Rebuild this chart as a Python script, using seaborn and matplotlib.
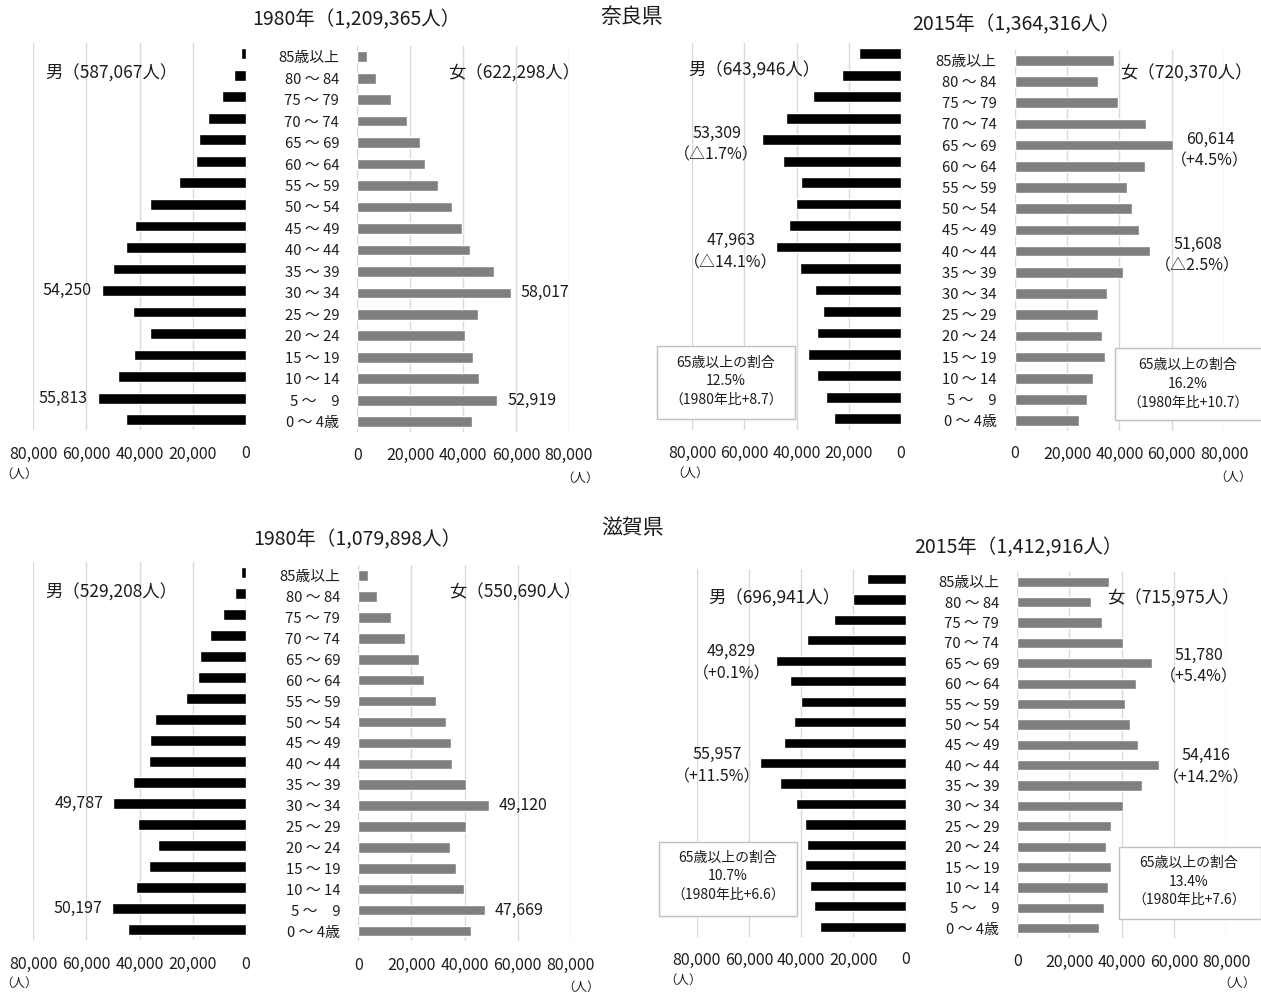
import matplotlib
matplotlib.use("Agg")
import matplotlib.pyplot as plt
from matplotlib.patches import Rectangle
import seaborn as sns

# Age groups, top of the pyramid first
ages = ["85歳以上", "80 ～ 84", "75 ～ 79", "70 ～ 74", "65 ～ 69", "60 ～ 64",
        "55 ～ 59", "50 ～ 54", "45 ～ 49", "40 ～ 44", "35 ～ 39", "30 ～ 34",
        "25 ～ 29", "20 ～ 24", "15 ～ 19", "10 ～ 14", "5 ～　9", "0 ～ 4歳"]

# Population by age group (persons)
nara_1980_male = [1900, 4400, 9000, 14100, 17600, 18800, 25000, 35900, 41700,
                  45200, 50100, 54250, 42500, 36200, 42200, 48200, 55813, 45200]
nara_1980_female = [3800, 7100, 12700, 18700, 23700, 25500, 30400, 35800, 39700,
                     42800, 51600, 58017, 45700, 40600, 43800, 46200, 52919, 43300]
nara_2015_male = [16200, 22600, 33600, 44000, 53309, 45000, 38300, 40200, 43000,
                  47963, 38500, 32900, 30000, 32000, 35600, 32000, 28800, 25800]
nara_2015_female = [38000, 32000, 39300, 50200, 60614, 49900, 42800, 44700, 47700,
                    51608, 41400, 35300, 32000, 33500, 34400, 29900, 27800, 24700]
shiga_1980_male = [1900, 4300, 8800, 13600, 17100, 18000, 22400, 34100, 36100,
                   36400, 42300, 49787, 40500, 32900, 36500, 41500, 50197, 44500]
shiga_1980_female = [3800, 6900, 12400, 17600, 22900, 24700, 29100, 32900, 34900,
                     35200, 40600, 49120, 40700, 34500, 36700, 39800, 47669, 42300]
shiga_2015_male = [14900, 20000, 27400, 37600, 49829, 44300, 39900, 42700, 46700,
                   55957, 48100, 42000, 38700, 37600, 38400, 36700, 35100, 32800]
shiga_2015_female = [35000, 28400, 32500, 40500, 51780, 45400, 41100, 43200, 46400,
                     54416, 47800, 40500, 35800, 34000, 35900, 34700, 33200, 31400]

# Totals
totals = {"nara_1980": 1209365, "nara_2015": 1364316,
          "shiga_1980": 1079898, "shiga_2015": 1412916}
male_totals = {"nara_1980": 587067, "nara_2015": 643946,
               "shiga_1980": 529208, "shiga_2015": 696941}
female_totals = {"nara_1980": 622298, "nara_2015": 720370,
                 "shiga_1980": 550690, "shiga_2015": 715975}

# Change rates shown next to highlighted 2015 bars (age index -> text)
nara_2015_male_changes = {4: "△1.7%", 9: "△14.1%"}
nara_2015_female_changes = {4: "+4.5%", 9: "△2.5%"}
shiga_2015_male_changes = {4: "+0.1%", 9: "+11.5%"}
shiga_2015_female_changes = {4: "+5.4%", 9: "+14.2%"}

# Share of population aged 65+ (rate, change since 1980)
nara_male_elderly = ("12.5%", "+8.7")
nara_female_elderly = ("16.2%", "+10.7")
shiga_male_elderly = ("10.7%", "+6.6")
shiga_female_elderly = ("13.4%", "+7.6")

ticks = [0, 20000, 40000, 60000, 80000]

sns.set_style("white")
plt.rcParams["font.family"] = ["Noto Sans CJK JP", "DejaVu Sans"]

W, H = 1261, 992
fig = plt.figure(figsize=(W / 100, H / 100), dpi=100)

TEXT = "#1c1c1c"
MALE = "#000000"
FEMALE = "#7f7f7f"
GRID = "#d9d9d9"


def pt(px):
    return px * 0.72


def half(values, x0, x80, c0, c17, color, tick_y, show_ages):
    step = (c17 - c0) / 17
    top, bottom = c0 - step / 2, c17 + step / 2
    left, right = min(x0, x80), max(x0, x80)
    ax = fig.add_axes([left / W, 1 - bottom / H, (right - left) / W, (bottom - top) / H])
    sns.barplot(x=values, y=ages, orient="h", color=color, saturation=1,
                width=0.5, ax=ax)
    if x80 < x0:
        ax.set_xlim(80000, 0)
    else:
        ax.set_xlim(0, 80000)
    ax.set_ylim(17.5, -0.5)
    ax.set_xlabel("")
    ax.set_ylabel("")
    ax.set_xticks(ticks)
    ax.set_xticklabels([f"{t:,}" for t in ticks])
    ax.tick_params(axis="x", length=0, pad=pt(tick_y - bottom), labelsize=11.5,
                   labelcolor=TEXT)
    plt.setp(ax.get_xticklabels(), va="center")
    ax.set_yticks(range(len(ages)))
    if show_ages:
        ax.set_yticklabels(ages)
        ax.tick_params(axis="y", length=0, pad=13, labelsize=10.7, labelcolor=TEXT)
    else:
        ax.tick_params(axis="y", left=False, labelleft=False)
    ax.grid(axis="x", color=GRID, linewidth=1)
    ax.grid(axis="y", visible=False)
    ax.set_axisbelow(True)
    for s in ax.spines.values():
        s.set_visible(False)
    return ax


def ftext(x, y, s, ha="center", size=11, z=6, **kw):
    fig.text(x / W, 1 - y / H, s, ha=ha, va="center", fontsize=size,
             color=TEXT, zorder=z, **kw)


def value_label(ax, values, i, side, dx=10, dy=0):
    sgn = -1 if side == "left" else 1
    ax.annotate(f"{values[i]:,}", xy=(values[i], i), xytext=(sgn * pt(dx), -pt(dy)),
                textcoords="offset points", ha="right" if side == "left" else "left",
                va="center", fontsize=11.5, color=TEXT)


def change_label(ax, values, i, change, dx, dy):
    ax.annotate(f"{values[i]:,}\n（{change}）", xy=(values[i], i),
                xytext=(pt(dx), -pt(dy)), textcoords="offset points",
                ha="center", va="center", fontsize=11.5, color=TEXT,
                linespacing=1.4)


def elderly_box(x0, x1, y0, y1, cx, lines_y, info):
    fig.add_artist(Rectangle((x0 / W, 1 - y1 / H), (x1 - x0) / W, (y1 - y0) / H,
                             transform=fig.transFigure, facecolor="white",
                             edgecolor="#bfbfbf", linewidth=1, zorder=5))
    rate, diff = info
    for s, y in zip(["65歳以上の割合", rate, f"（1980年比{diff}）"], lines_y):
        ftext(cx, y, s, size=10)


def unit(x, y):
    ftext(x, y, "（人）", size=9)


# ---------------- 奈良県 ----------------
ftext(632, 17, "奈良県", size=15)

ax = half(nara_1980_male, 245.7, 33.3, 53.7, 419.7, MALE, 454, False)
value_label(ax, nara_1980_male, 11, "left")
value_label(ax, nara_1980_male, 16, "left")
ax = half(nara_1980_female, 357.3, 568.7, 56.7, 421.7, FEMALE, 455, True)
value_label(ax, nara_1980_female, 11, "right")
value_label(ax, nara_1980_female, 16, "right")
ftext(356, 20, f"1980年（{totals['nara_1980']:,}人）", size=14)
ftext(45, 74, f"男（{male_totals['nara_1980']:,}人）", ha="left", size=12.5)
ftext(448, 74, f"女（{female_totals['nara_1980']:,}人）", ha="left", size=12.5)
unit(19, 474)
unit(580, 478)

ax = half(nara_2015_male, 901, 692, 53.8, 418.8, MALE, 453, False)
for i, c in nara_2015_male_changes.items():
    change_label(ax, nara_2015_male, i, c, -45, 4.5)
ax = half(nara_2015_female, 1014.7, 1224, 60.3, 420.8, FEMALE, 454, True)
change_label(ax, nara_2015_female, 4, nara_2015_female_changes[4], 37, 5)
change_label(ax, nara_2015_female, 9, nara_2015_female_changes[9], 48, 4)
ftext(1016, 25, f"2015年（{totals['nara_2015']:,}人）", size=14)
ftext(688, 71, f"男（{male_totals['nara_2015']:,}人）", ha="left", size=12.5)
ftext(1120, 74, f"女（{female_totals['nara_2015']:,}人）", ha="left", size=12.5)
unit(690, 473)
unit(1233, 477)
elderly_box(657, 795, 345.7, 419, 726, [362.7, 381, 399.5], nara_male_elderly)
elderly_box(1115, 1262, 347.7, 420, 1188, [365, 384, 402.7], nara_female_elderly)

# ---------------- 滋賀県 ----------------
ftext(632, 528, "滋賀県", size=15)

ax = half(shiga_1980_male, 246, 33, 572.5, 929.3, MALE, 964, False)
value_label(ax, shiga_1980_male, 11, "left")
value_label(ax, shiga_1980_male, 16, "left")
ax = half(shiga_1980_female, 358.3, 570.7, 575.7, 931, FEMALE, 965, True)
value_label(ax, shiga_1980_female, 11, "right")
value_label(ax, shiga_1980_female, 16, "right")
ftext(357, 540, f"1980年（{totals['shiga_1980']:,}人）", size=14)
ftext(45, 593, f"男（{male_totals['shiga_1980']:,}人）", ha="left", size=12.5)
ftext(449, 593, f"女（{female_totals['shiga_1980']:,}人）", ha="left", size=12.5)
unit(19, 983)
unit(581, 987)

ax = half(shiga_2015_male, 905.7, 696.7, 579, 926.7, MALE, 960, False)
change_label(ax, shiga_2015_male, 4, shiga_2015_male_changes[4], -44, 2)
change_label(ax, shiga_2015_male, 9, shiga_2015_male_changes[9], -42, 2.5)
ax = half(shiga_2015_female, 1017.3, 1226, 581.7, 928.3, FEMALE, 962, True)
change_label(ax, shiga_2015_female, 4, shiga_2015_female_changes[4], 46, 3)
change_label(ax, shiga_2015_female, 9, shiga_2015_female_changes[9], 47, 1.5)
ftext(1018, 548, f"2015年（{totals['shiga_2015']:,}人）", size=14)
ftext(708, 599, f"男（{male_totals['shiga_2015']:,}人）", ha="left", size=12.5)
ftext(1107, 599, f"女（{female_totals['shiga_2015']:,}人）", ha="left", size=12.5)
unit(683, 980)
unit(1237, 983)
elderly_box(659, 797, 841.7, 916, 728, [857.7, 876, 895], shiga_male_elderly)
elderly_box(1119, 1261, 847.3, 919.3, 1189, [863.3, 881.7, 900], shiga_female_elderly)

fig.savefig("out.png", dpi=100, facecolor="white")
